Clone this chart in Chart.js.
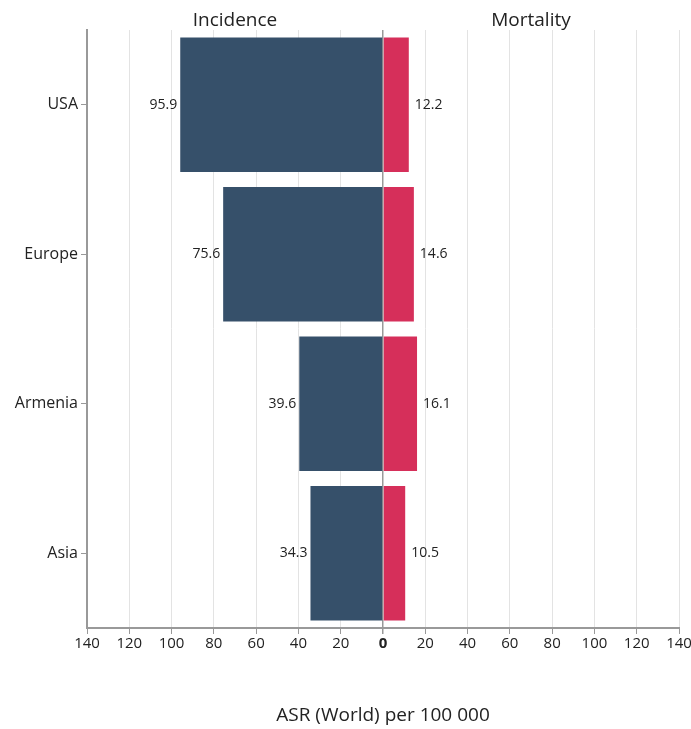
<!DOCTYPE html>
<html>
<head>
<meta charset="utf-8">
<script src="https://cdn.jsdelivr.net/npm/chart.js@4"></script>
<style>
  body { margin: 0; background: #fff; }
  #wrap { width: 691px; height: 729px; }
</style>
</head>
<body>
<div id="wrap"><canvas id="chart" width="691" height="729"></canvas></div>
<script>
const regions = ["USA", "Europe", "Armenia", "Asia"];
const incidence = [95.9, 75.6, 39.6, 34.3];
const mortality = [12.2, 14.6, 16.1, 10.5];
const xTicks = [-140, -120, -100, -80, -60, -40, -20, 0, 20, 40, 60, 80, 100, 120, 140];

const FONT = "'Open Sans', 'Noto Sans', sans-serif";

// value labels next to bar ends + panel titles
const labelsPlugin = {
  id: "labels",
  afterDatasetsDraw(chart) {
    const { ctx, scales } = chart;
    ctx.save();
    ctx.font = "14px " + FONT;
    ctx.fillStyle = "#222";
    ctx.textBaseline = "middle";
    chart.data.datasets.forEach((ds, i) => {
      const meta = chart.getDatasetMeta(i);
      meta.data.forEach((bar, j) => {
        const v = i === 0 ? incidence[j] : mortality[j];
        if (i === 0) {
          ctx.textAlign = "right";
          ctx.fillText(v.toFixed(1), bar.x - 3, bar.y);
        } else {
          ctx.textAlign = "left";
          ctx.fillText(v.toFixed(1), bar.x + 6, bar.y);
        }
      });
    });
    ctx.font = "19px " + FONT;
    ctx.textAlign = "center";
    ctx.textBaseline = "middle";
    ctx.fillText("Incidence", scales.x.getPixelForValue(-70), 21);
    ctx.fillText("Mortality", scales.x.getPixelForValue(70), 21);
    ctx.fillText("ASR (World) per 100 000", scales.x.getPixelForValue(0), 716);
    ctx.restore();
  }
};

new Chart(document.getElementById("chart"), {
  type: "bar",
  data: {
    labels: regions,
    datasets: [
      {
        label: "Incidence",
        data: incidence.map(v => -v),
        backgroundColor: "#36506a",
        borderWidth: 0
      },
      {
        label: "Mortality",
        data: mortality,
        backgroundColor: "#d62f5a",
        borderWidth: 0
      }
    ]
  },
  options: {
    indexAxis: "y",
    responsive: false,
    animation: false,
    layout: { padding: { top: 30, right: 12, bottom: 0, left: 0 } },
    plugins: {
      legend: { display: false },
      tooltip: { enabled: false }
    },
    datasets: {
      bar: { barPercentage: 0.9, categoryPercentage: 1 }
    },
    scales: {
      x: {
        type: "linear",
        min: -140,
        max: 140,
        stacked: true,
        afterBuildTicks(scale) {
          scale.ticks = xTicks.map(v => ({ value: v }));
        },
        afterFit(scale) {
          scale.height = 101;
          scale.paddingLeft = 0;
          scale.paddingRight = 0;
        },
        ticks: {
          color: "#222",
          font: ctx => ({
            size: 15,
            family: FONT,
            weight: ctx.tick && ctx.tick.value === 0 ? "bold" : "normal"
          }),
          padding: 1,
          maxRotation: 0,
          autoSkip: false,
          callback: v => String(Math.abs(v))
        },
        grid: {
          color: ctx => ctx.tick && ctx.tick.value === 0 ? "#999" : "#e3e3e3",
          lineWidth: ctx => ctx.tick && ctx.tick.value === 0 ? 1.5 : 1,
          drawTicks: true,
          tickLength: 6,
          tickColor: "#999"
        },
        border: { color: "#999", width: 2 }
      },
      y: {
        stacked: true,
        afterFit(scale) { scale.width = 87; },
        ticks: {
          color: "#222",
          font: { size: 16, family: FONT },
          padding: 3
        },
        grid: {
          display: true,
          offset: false,
          drawOnChartArea: false,
          tickLength: 6,
          tickColor: "#999"
        },
        border: { color: "#999", width: 2 }
      }
    }
  },
  plugins: [labelsPlugin]
});
</script>
</body>
</html>
